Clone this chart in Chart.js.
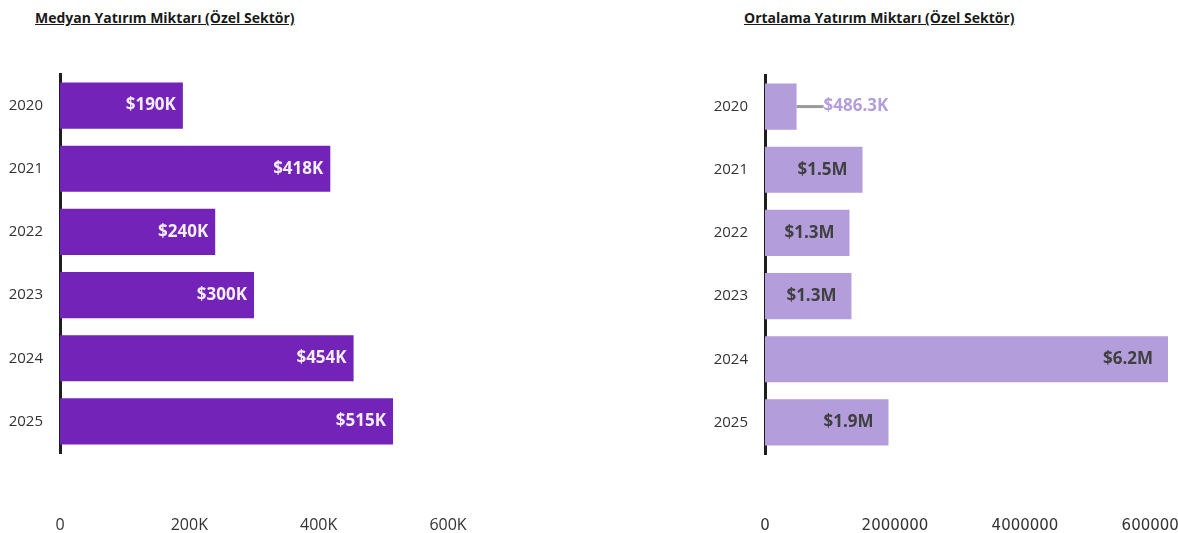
<!DOCTYPE html>
<html>
<head>
<meta charset="utf-8">
<script src="https://cdn.jsdelivr.net/npm/chart.js@4"></script>
<style>
  body { margin: 0; background: #fff; width: 1178px; height: 533px; position: relative; overflow: hidden; }
  .title { position: absolute; top: 8px; font: bold 14px "Open Sans", sans-serif; color: #1a1a1a; text-decoration: underline; }
  canvas { position: absolute; top: 0; }
</style>
</head>
<body>
<div class="title" style="left:35px">Medyan Yatırım Miktarı (Özel Sektör)</div>
<div class="title" style="left:744px">Ortalama Yatırım Miktarı (Özel Sektör)</div>
<canvas id="medianChart" width="589" height="533" style="left:0"></canvas>
<canvas id="meanChart" width="589" height="533" style="left:589px"></canvas>
<script>
// Data
const years = ['2020', '2021', '2022', '2023', '2024', '2025'];
const medianValues = [190000, 418000, 240000, 300000, 454000, 515000];
const medianLabels = ['$190K', '$418K', '$240K', '$300K', '$454K', '$515K'];
const medianTicks = [0, 200000, 400000, 600000];
const meanValues = [486300, 1500000, 1300000, 1330000, 6200000, 1900000];
const meanLabels = ['$486.3K', '$1.5M', '$1.3M', '$1.3M', '$6.2M', '$1.9M'];
const meanTicks = [0, 2000000, 4000000, 6000000];

// Draws value labels inside the bar end, or outside with a leader line when the bar is too short
const barLabels = {
  id: 'barLabels',
  afterDatasetsDraw(chart, args, opts) {
    const ctx = chart.ctx;
    const meta = chart.getDatasetMeta(0);
    ctx.save();
    ctx.font = 'bold 17px "Open Sans", sans-serif';
    ctx.textBaseline = 'middle';
    meta.data.forEach((bar, i) => {
      const text = opts.labels[i];
      const w = ctx.measureText(text).width;
      const barW = bar.x - bar.base;
      if (w + opts.pad + 6 < barW) {
        ctx.fillStyle = opts.color;
        ctx.textAlign = 'right';
        ctx.fillText(text, bar.x - opts.pad, bar.y);
      } else {
        ctx.strokeStyle = '#9a9a9a';
        ctx.lineWidth = 3;
        ctx.beginPath();
        ctx.moveTo(bar.x, bar.y);
        ctx.lineTo(bar.x + 27, bar.y);
        ctx.stroke();
        ctx.fillStyle = opts.outsideColor;
        ctx.textAlign = 'left';
        ctx.fillText(text, bar.x + 27, bar.y);
      }
    });
    ctx.restore();
  }
};

function makeChart(id, values, labels, ticks, opt) {
  new Chart(document.getElementById(id), {
    type: 'bar',
    data: {
      labels: years,
      datasets: [{
        data: values,
        backgroundColor: opt.barColor,
        barPercentage: 0.73,
        categoryPercentage: 1,
      }],
    },
    plugins: [barLabels],
    options: {
      indexAxis: 'y',
      responsive: false,
      animation: false,
      layout: { padding: { top: opt.top, right: opt.right, bottom: 0, left: 0 } },
      plugins: {
        legend: { display: false },
        tooltip: { enabled: false },
        barLabels: { labels: labels, color: opt.labelColor, outsideColor: opt.barColor, pad: opt.pad },
      },
      scales: {
        y: {
          grid: { display: false },
          border: { display: true, color: '#1e1e1e', width: 3 },
          ticks: { color: '#333', font: { family: 'Open Sans', size: 15 }, padding: 9 },
          afterFit: (s) => { s.width = opt.axisX; },
        },
        x: {
          min: 0,
          max: opt.max,
          grid: { display: false },
          border: { display: false },
          ticks: {
            color: '#333',
            font: { family: opt.tickFont, size: opt.tickSize },
            padding: 55,
            maxRotation: 0,
            callback: opt.tickFormat,
          },
          afterBuildTicks: (s) => { s.ticks = ticks.map((v) => ({ value: v })); },
          afterFit: (s) => {
            s.height = 533 - opt.bottom;
            s.paddingLeft = 0;
            s.paddingRight = 0;
          },
        },
      },
    },
  });
}

makeChart('medianChart', medianValues, medianLabels, medianTicks, {
  barColor: '#7323b7', labelColor: '#f4eefa', pad: 7,
  top: 74, bottom: 453, axisX: 60, right: 141, max: 600000,
  tickFont: 'Open Sans', tickSize: 16,
  tickFormat: (v) => (v === 0 ? '0' : v / 1000 + 'K'),
});

makeChart('meanChart', meanValues, meanLabels, meanTicks, {
  barColor: '#b39ddb', labelColor: '#404040', pad: 15,
  top: 75, bottom: 454, axisX: 176, right: 10, max: 6200000,
  tickFont: 'DejaVu Sans', tickSize: 15,
  tickFormat: (v) => String(v),
});
</script>
</body>
</html>
